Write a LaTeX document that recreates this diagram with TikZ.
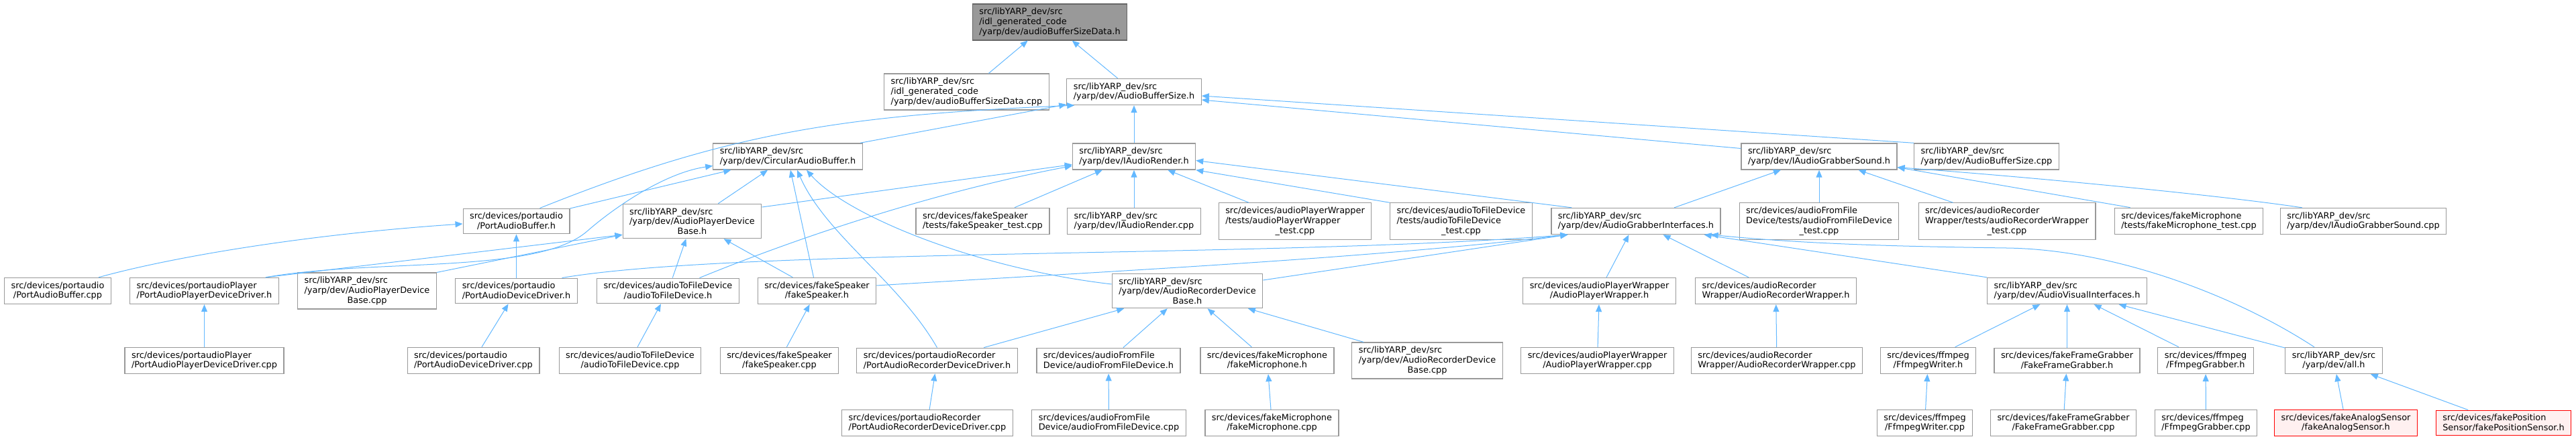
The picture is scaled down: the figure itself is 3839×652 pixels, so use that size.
\documentclass[tikz,border=0pt]{standalone}
\usepackage{fontspec}
\setmainfont{DejaVu Sans}
\usepackage{xcolor}
\usepackage{tikz}
\usetikzlibrary{arrows.meta,positioning,calc}

\definecolor{edgeblue}{HTML}{63B8FF}
\definecolor{boxgray}{HTML}{999999}
\definecolor{rootgray}{HTML}{666666}
\definecolor{missfill}{HTML}{FFF0F0}

\begin{document}
\begin{tikzpicture}[
    x=1pt, y=-1pt,
    file_box/.style={draw=boxgray, line width=1.2pt, fill=white, align=left,
        inner xsep=10pt, inner ysep=6pt, font=\fontsize{12.9}{14.7}\selectfont},
    root_box/.style={file_box, draw=rootgray, fill=boxgray},
    red_box/.style={file_box, draw=red, fill=missfill},
    dep_edge/.style={draw=edgeblue, line width=1pt, -{Triangle[length=11pt, width=9pt]}}
]
    \useasboundingbox (0,0) rectangle (3839,652);

    \node[root_box] (root) at (1564.5,33) {src/libYARP\_dev/src\\/idl\_generated\_code\\\hfil/yarp/dev/audioBufferSizeData.h};

    \node[file_box] (absd_cpp) at (1440.5,137) {src/libYARP\_dev/src\\/idl\_generated\_code\\\hfil/yarp/dev/audioBufferSizeData.cpp};
    \node[file_box] (abs_h) at (1690,137) {src/libYARP\_dev/src\\\hfil/yarp/dev/AudioBufferSize.h};

    \node[file_box] (cab_h) at (1174,233.5) {src/libYARP\_dev/src\\\hfil/yarp/dev/CircularAudioBuffer.h};
    \node[file_box] (iar_h) at (1690,233.5) {src/libYARP\_dev/src\\\hfil/yarp/dev/IAudioRender.h};
    \node[file_box] (iags_h) at (2711,233.5) {src/libYARP\_dev/src\\\hfil/yarp/dev/IAudioGrabberSound.h};
    \node[file_box] (abs_cpp) at (2960.5,233.5) {src/libYARP\_dev/src\\\hfil/yarp/dev/AudioBufferSize.cpp};

    \node[file_box] (pa_buf_h) at (769.5,330) {src/devices/portaudio\\\hfil/PortAudioBuffer.h};
    \node[file_box] (apdb_h) at (1031.5,330) {src/libYARP\_dev/src\\/yarp/dev/AudioPlayerDevice\\\hfil Base.h};
    \node[file_box] (fst_cpp) at (1464.5,330) {src/devices/fakeSpeaker\\\hfil/tests/fakeSpeaker\_test.cpp};
    \node[file_box] (iar_cpp) at (1690,330) {src/libYARP\_dev/src\\\hfil/yarp/dev/IAudioRender.cpp};
    \node[file_box] (apwt_cpp) at (1930,330) {src/devices/audioPlayerWrapper\\/tests/audioPlayerWrapper\\\hfil\_test.cpp};
    \node[file_box] (atft_cpp) at (2177.5,330) {src/devices/audioToFileDevice\\/tests/audioToFileDevice\\\hfil\_test.cpp};
    \node[file_box] (agi_h) at (2438,330) {src/libYARP\_dev/src\\\hfil/yarp/dev/AudioGrabberInterfaces.h};
    \node[file_box] (afft_cpp) at (2711,330) {src/devices/audioFromFile\\Device/tests/audioFromFileDevice\\\hfil\_test.cpp};
    \node[file_box] (arwt_cpp) at (2991,330) {src/devices/audioRecorder\\Wrapper/tests/audioRecorderWrapper\\\hfil\_test.cpp};
    \node[file_box] (fmt_cpp) at (3262,330) {src/devices/fakeMicrophone\\\hfil/tests/fakeMicrophone\_test.cpp};
    \node[file_box] (iagsc_cpp) at (3522,330) {src/libYARP\_dev/src\\\hfil/yarp/dev/IAudioGrabberSound.cpp};

    \node[file_box] (pa_buf_cpp) at (86,434) {src/devices/portaudio\\\hfil/PortAudioBuffer.cpp};
    \node[file_box] (pap_h) at (304.5,434) {src/devices/portaudioPlayer\\\hfil/PortAudioPlayerDeviceDriver.h};
    \node[file_box] (apdb_cpp) at (547,434) {src/libYARP\_dev/src\\/yarp/dev/AudioPlayerDevice\\\hfil Base.cpp};
    \node[file_box] (padd_h) at (769.5,434) {src/devices/portaudio\\\hfil/PortAudioDeviceDriver.h};
    \node[file_box] (atf_h) at (995.5,434) {src/devices/audioToFileDevice\\\hfil/audioToFileDevice.h};
    \node[file_box] (fs_h) at (1217.5,434) {src/devices/fakeSpeaker\\\hfil/fakeSpeaker.h};
    \node[file_box] (ardb_h) at (1769.5,434) {src/libYARP\_dev/src\\/yarp/dev/AudioRecorderDevice\\\hfil Base.h};
    \node[file_box] (apw_h) at (2383.5,434) {src/devices/audioPlayerWrapper\\\hfil/AudioPlayerWrapper.h};
    \node[file_box] (arw_h) at (2646.5,434) {src/devices/audioRecorder\\\hfil Wrapper/AudioRecorderWrapper.h};
    \node[file_box] (avi_h) at (3080.5,434) {src/libYARP\_dev/src\\\hfil/yarp/dev/AudioVisualInterfaces.h};

    \node[file_box] (pap_cpp) at (304.5,538) {src/devices/portaudioPlayer\\\hfil/PortAudioPlayerDeviceDriver.cpp};
    \node[file_box] (padd_cpp) at (705.5,538) {src/devices/portaudio\\\hfil/PortAudioDeviceDriver.cpp};
    \node[file_box] (atf_cpp) at (939,538) {src/devices/audioToFileDevice\\\hfil/audioToFileDevice.cpp};
    \node[file_box] (fs_cpp) at (1161.5,538) {src/devices/fakeSpeaker\\\hfil/fakeSpeaker.cpp};
    \node[file_box] (pard_h) at (1396.5,538) {src/devices/portaudioRecorder\\\hfil/PortAudioRecorderDeviceDriver.h};
    \node[file_box] (aff_h) at (1652,538) {src/devices/audioFromFile\\\hfil Device/audioFromFileDevice.h};
    \node[file_box] (fm_h) at (1888.5,538) {src/devices/fakeMicrophone\\\hfil/fakeMicrophone.h};
    \node[file_box] (ardb_cpp) at (2127,538) {src/libYARP\_dev/src\\/yarp/dev/AudioRecorderDevice\\\hfil Base.cpp};
    \node[file_box] (apw_cpp) at (2380.5,538) {src/devices/audioPlayerWrapper\\\hfil/AudioPlayerWrapper.cpp};
    \node[file_box] (arw_cpp) at (2648,538) {src/devices/audioRecorder\\\hfil Wrapper/AudioRecorderWrapper.cpp};
    \node[file_box] (fw_h) at (2873.5,538) {src/devices/ffmpeg\\\hfil/FfmpegWriter.h};
    \node[file_box] (ffg_h) at (3080.5,538) {src/devices/fakeFrameGrabber\\\hfil/FakeFrameGrabber.h};
    \node[file_box] (fg_h) at (3287,538) {src/devices/ffmpeg\\\hfil/FfmpegGrabber.h};
    \node[file_box] (all_h) at (3478,538) {src/libYARP\_dev/src\\\hfil/yarp/dev/all.h};

    \node[file_box] (pard_cpp) at (1382,631) {src/devices/portaudioRecorder\\\hfil/PortAudioRecorderDeviceDriver.cpp};
    \node[file_box] (aff_cpp) at (1652.5,631) {src/devices/audioFromFile\\\hfil Device/audioFromFileDevice.cpp};
    \node[file_box] (fm_cpp) at (1895.5,631) {src/devices/fakeMicrophone\\\hfil/fakeMicrophone.cpp};
    \node[file_box] (fw_cpp) at (2868.5,631) {src/devices/ffmpeg\\\hfil/FfmpegWriter.cpp};
    \node[file_box] (ffg_cpp) at (3075,631) {src/devices/fakeFrameGrabber\\\hfil/FakeFrameGrabber.cpp};
    \node[file_box] (fg_cpp) at (3287.5,631) {src/devices/ffmpeg\\\hfil/FfmpegGrabber.cpp};
    \node[red_box] (fas_h) at (3496,631) {src/devices/fakeAnalogSensor\\\hfil/fakeAnalogSensor.h};
    \node[red_box] (fps_h) at (3731,631) {src/devices/fakePosition\\\hfil Sensor/fakePositionSensor.h};

    \draw[dep_edge] (absd_cpp) -- (root);
    \draw[dep_edge] (abs_h) -- (root);

    \draw[dep_edge] (iar_h) -- (abs_h);
    \draw[dep_edge] (cab_h) -- (abs_h);
    \draw[dep_edge] ([xshift=35]pa_buf_h.north) .. controls (1080,200) and (1250,172) .. ([xshift=12]abs_h.south west);
    \draw[dep_edge] (abs_cpp.north west) -- ([yshift=-6]abs_h.east);
    \draw[dep_edge] ([yshift=12]iags_h.west) -- ([yshift=-12]abs_h.east);

    \draw[dep_edge] (apdb_h) -- (cab_h);
    \draw[dep_edge] ([xshift=-5]fs_h.north) -- ([xshift=4]cab_h.south);
    \draw[dep_edge] (pard_h.north) .. controls (1340,420) and (1230,350) .. ([xshift=14]cab_h.south);
    \draw[dep_edge] ([yshift=10]ardb_h.west) .. controls (1450,400) and (1260,320) .. ([xshift=28]cab_h.south);
    \draw[dep_edge] (pa_buf_h) -- (cab_h);
    \draw[dep_edge] ([xshift=-20]pap_h.north east) .. controls (560,385) and (800,410) .. (875,345)
        .. controls (915,310) and (990,258) .. ([yshift=-14]cab_h.west);

    \draw[dep_edge] (fst_cpp) -- (iar_h);
    \draw[dep_edge] (iar_cpp) -- (iar_h);
    \draw[dep_edge] (apwt_cpp) -- (iar_h);
    \draw[dep_edge] (atft_cpp.north west) -- (iar_h.south east);
    \draw[dep_edge] ([xshift=31]agi_h.north west) -- ([yshift=-6]iar_h.east);
    \draw[dep_edge] ([yshift=21]apdb_h.east) -- ([yshift=-12]iar_h.west);
    \draw[dep_edge] ([xshift=47]atf_h.north) .. controls (1200,350) and (1400,285) .. ([yshift=-14]iar_h.west);

    \draw[dep_edge] (agi_h) -- (iags_h);
    \draw[dep_edge] (afft_cpp) -- (iags_h);
    \draw[dep_edge] (arwt_cpp) -- (iags_h);
    \draw[dep_edge] ([xshift=24]fmt_cpp.north west) -- ([yshift=4]iags_h.south east);
    \draw[dep_edge] ([xshift=33]iagsc_cpp.north west) .. controls (3300,290) and (3000,262) .. ([yshift=4]iags_h.south east);

    \draw[dep_edge] (atf_h) -- (apdb_h);
    \draw[dep_edge] (fs_h) -- (apdb_h);
    \draw[dep_edge] ([xshift=-20]pap_h.north east) -- ([yshift=6]apdb_h.south west);
    \draw[dep_edge] (apdb_cpp.north east) -- ([yshift=6]apdb_h.south west);

    \draw[dep_edge] ([xshift=61]pa_buf_cpp.north) .. controls (250,385) and (450,350) .. ([yshift=-4]pa_buf_h.west);
    \draw[dep_edge] (padd_h) -- (pa_buf_h);

    \draw[dep_edge] ([xshift=68]padd_h.north) .. controls (1100,370) and (1900,385) .. ([xshift=25]agi_h.south west);
    \draw[dep_edge] ([yshift=8]fs_h.east) .. controls (1650,405) and (2050,385) .. ([xshift=25]agi_h.south west);
    \draw[dep_edge] ([yshift=16]ardb_h.east) -- ([xshift=25]agi_h.south west);
    \draw[dep_edge] (apw_h) -- (agi_h);
    \draw[dep_edge] (arw_h) -- (agi_h);
    \draw[dep_edge] (avi_h.north west) -- ([xshift=-25]agi_h.south east);
    \draw[dep_edge] ([xshift=-29]all_h.north) .. controls (3330,440) and (3150,372) .. (2990,370)
        .. controls (2850,368) and (2700,365) .. ([xshift=-15]agi_h.south east);

    \draw[dep_edge] (pard_h) -- (ardb_h);
    \draw[dep_edge] (aff_h) -- (ardb_h);
    \draw[dep_edge] (fm_h) -- (ardb_h);
    \draw[dep_edge] (ardb_cpp) -- (ardb_h);

    \draw[dep_edge] (fw_h) -- (avi_h);
    \draw[dep_edge] (ffg_h) -- (avi_h);
    \draw[dep_edge] (fg_h) -- (avi_h);
    \draw[dep_edge] (all_h) -- (avi_h);
    \draw[dep_edge] (fas_h) -- (all_h);
    \draw[dep_edge] (fps_h) -- (all_h);

    \draw[dep_edge] (pap_cpp) -- (pap_h);
    \draw[dep_edge] (padd_cpp) -- (padd_h);
    \draw[dep_edge] (atf_cpp) -- (atf_h);
    \draw[dep_edge] (fs_cpp) -- (fs_h);
    \draw[dep_edge] (pard_cpp) -- (pard_h);
    \draw[dep_edge] (aff_cpp) -- (aff_h);
    \draw[dep_edge] (fm_cpp) -- (fm_h);
    \draw[dep_edge] (apw_cpp) -- (apw_h);
    \draw[dep_edge] (arw_cpp) -- (arw_h);
    \draw[dep_edge] (fw_cpp) -- (fw_h);
    \draw[dep_edge] (ffg_cpp) -- (ffg_h);
    \draw[dep_edge] (fg_cpp) -- (fg_h);
\end{tikzpicture}
\end{document}
